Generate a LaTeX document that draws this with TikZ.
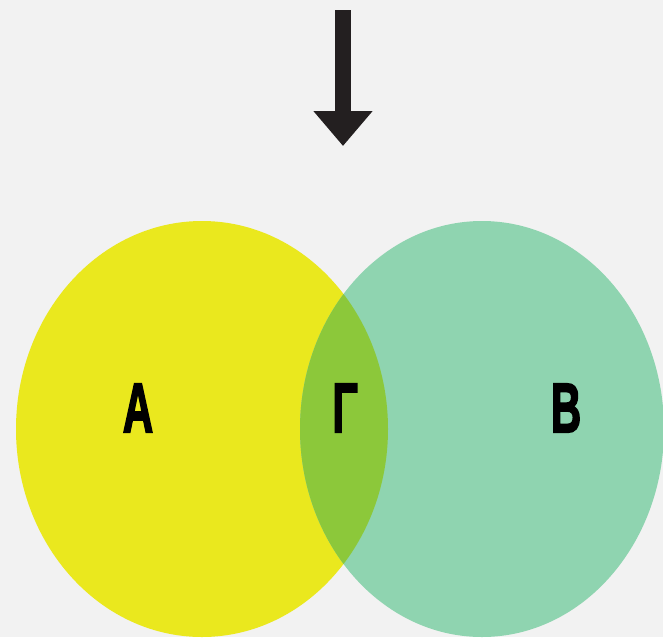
\documentclass[tikz,border=0pt]{standalone}
\usepackage{fontspec}
\setmainfont{Liberation Sans}
\newfontfamily\heavyfont[FakeBold=3]{Liberation Sans Bold}
\usetikzlibrary{positioning,arrows.meta,shapes.geometric}
\definecolor{bgcol}{HTML}{F2F2F2}
\definecolor{setAcol}{HTML}{EAE81E}
\definecolor{setBcol}{HTML}{8FD4B0}
\definecolor{capcol}{HTML}{8CC83A}
\definecolor{inkcol}{HTML}{231F20}

\begin{document}
\begin{tikzpicture}[
    x=1pt, y=-1pt,
    setbox/.style={ellipse, inner sep=0pt, minimum width=372pt, minimum height=416pt},
    lbl/.style={font=\fontsize{70}{70}\selectfont\heavyfont, xscale=0.6, text=black, inner sep=0pt},
    arr/.style={-{Triangle[length=35pt, width=57pt]}, line width=16pt, draw=inkcol},
]
% Background
\fill[bgcol] (0,0) rectangle (663,637);
\useasboundingbox (0,0) rectangle (663,637);

% === Sets ===
\node[setbox, fill=setAcol] (setA) at (202,429) {};
\node[setbox, fill=setBcol, minimum width=364pt] (setB) at (482,429) {};

% Overlap
\begin{scope}
  \clip (202,429) ellipse [x radius=186, y radius=208];
  \fill[capcol] (482,429) ellipse [x radius=182, y radius=208];
\end{scope}

% Labels
\node[lbl] (labA) at (138,408) {A};
\node[lbl] (labG) at (345,408) {Γ};
\node[lbl] (labB) at (566,408) {B};

% Arrow
\coordinate (top) at (343,10);
\coordinate (tip) at (343,146);
\draw[arr] (top) -- (tip);

\end{tikzpicture}
\end{document}
